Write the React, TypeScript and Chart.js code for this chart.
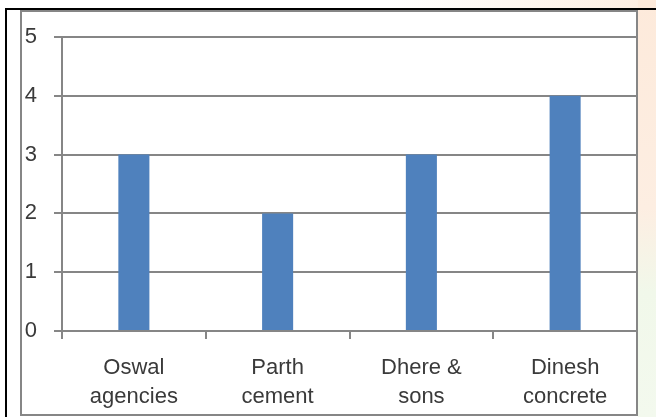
import React, { useEffect, useRef } from "react";
import { Chart, registerables } from "chart.js";

Chart.register(...registerables);

const categories: string[][] = [
  ["Oswal", "agencies"],
  ["Parth", "cement"],
  ["Dhere &", "sons"],
  ["Dinesh", "concrete"],
];
const values: number[] = [3, 2, 3, 4];
const yTicks: number[] = [0, 1, 2, 3, 4, 5];

const GRID = "#868686";
const BAR = "#4F81BD";
const TEXT = "#3a3a3a";
const FONT = "'Liberation Sans', Arial, sans-serif";

export default function App() {
  const ref = useRef<HTMLCanvasElement | null>(null);

  useEffect(() => {
    document.body.style.margin = "0";
    const canvas = ref.current;
    if (!canvas) return;
    const chart = new Chart(canvas, {
      type: "bar",
      data: {
        labels: categories,
        datasets: [
          {
            data: values,
            backgroundColor: BAR,
            borderWidth: 0,
            categoryPercentage: 0.216,
            barPercentage: 1,
          },
        ],
      },
      options: {
        animation: false,
        responsive: false,
        maintainAspectRatio: false,
        devicePixelRatio: 1,
        layout: { padding: { left: 20, right: 19, top: 37, bottom: 0 } },
        plugins: { legend: { display: false }, tooltip: { enabled: false } },
        scales: {
          x: {
            offset: true,
            grid: {
              offset: true,
              drawOnChartArea: false,
              drawTicks: true,
              tickLength: 8,
              color: GRID,
              lineWidth: 2,
            },
            border: { display: true, color: GRID, width: 2 },
            ticks: {
              color: TEXT,
              font: { family: FONT, size: 22, lineHeight: 1.3 },
              padding: 15,
              maxRotation: 0,
              autoSkip: false,
            },
            afterFit: (s: any) => {
              s.height = 86;
            },
          },
          y: {
            min: 0,
            max: 5,
            afterBuildTicks: (s: any) => {
              s.ticks = yTicks.map((v) => ({ value: v }));
            },
            grid: {
              drawTicks: true,
              tickLength: 8,
              color: GRID,
              lineWidth: 2,
            },
            border: { display: true, color: GRID, width: 2 },
            ticks: {
              color: TEXT,
              font: { family: FONT, size: 22 },
              padding: 17,
            },
            afterFit: (s: any) => {
              s.width = 42;
            },
          },
        },
      },
    });
    return () => chart.destroy();
  }, []);

  return (
    <div
      style={{
        position: "fixed",
        left: 0,
        top: 0,
        width: 656,
        height: 417,
        background: "#ffffff",
        overflow: "hidden",
      }}
    >
      <div
        style={{
          position: "absolute",
          left: 638,
          top: 0,
          width: 18,
          height: 417,
          background: "linear-gradient(180deg, #fdeadb 0%, #fdeee2 50%, #f1f8ea 70%, #f3f9ee 100%)",
        }}
      />
      <div
        style={{
          position: "absolute",
          left: 7,
          top: 0,
          width: 631,
          height: 8,
          background: "linear-gradient(90deg, #ffffff 0%, #ffffff 60%, #fdeee2 100%)",
        }}
      />
      <div style={{ position: "absolute", left: 5, top: 8, width: 651, height: 2, background: "#000" }} />
      <div style={{ position: "absolute", left: 5, top: 8, width: 2, height: 409, background: "#000" }} />
      <div
        style={{
          position: "absolute",
          left: 20,
          top: 10,
          width: 614,
          height: 402,
          border: `2px solid ${GRID}`,
          background: "#ffffff",
        }}
      />
      <canvas
        ref={ref}
        width={656}
        height={417}
        style={{ position: "absolute", left: 0, top: 0, width: 656, height: 417 }}
      />
    </div>
  );
}
